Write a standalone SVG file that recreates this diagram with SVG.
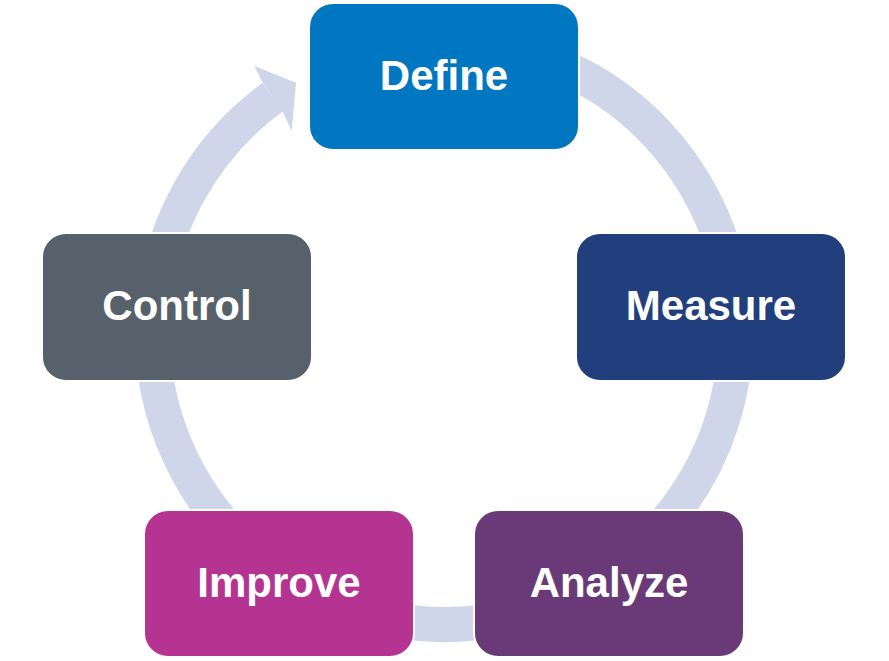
<svg xmlns="http://www.w3.org/2000/svg" width="889" height="661" viewBox="0 0 889 661">
<style>
.box{stroke:#ffffff;stroke-width:2}
.lbl{font-family:"Liberation Sans",Arial,sans-serif;font-weight:bold;font-size:42px;fill:#ffffff;text-anchor:middle}
.ring{fill:none;stroke:#CFD6EA;stroke-width:35}
</style>
<rect width="889" height="661" fill="#ffffff"/>
<g id="connectors">
<path class="ring" d="M444 41.5 A291.5 291.5 0 1 1 272.7 97.2"/>
<polygon points="254.3,66 296,82.7 291.7,130.7 283.3,113 262.5,82.5" fill="#CFD6EA"/>
</g>
<g id="define">
<rect class="box" x="309" y="3" width="270" height="147" rx="24" fill="#0077C0"/>
<text class="lbl" x="444" y="90">Define</text>
</g>
<g id="measure">
<rect class="box" x="576" y="233" width="270" height="148" rx="24" fill="#213F7D"/>
<text class="lbl" x="711" y="320">Measure</text>
</g>
<g id="analyze">
<rect class="box" x="474" y="510" width="270" height="147" rx="24" fill="#6A3A78"/>
<text class="lbl" x="609" y="597">Analyze</text>
</g>
<g id="improve">
<rect class="box" x="144" y="510" width="270" height="147" rx="24" fill="#B53391"/>
<text class="lbl" x="279" y="597">Improve</text>
</g>
<g id="control">
<rect class="box" x="42" y="233" width="270" height="148" rx="24" fill="#56616B"/>
<text class="lbl" x="177" y="320">Control</text>
</g>
</svg>
